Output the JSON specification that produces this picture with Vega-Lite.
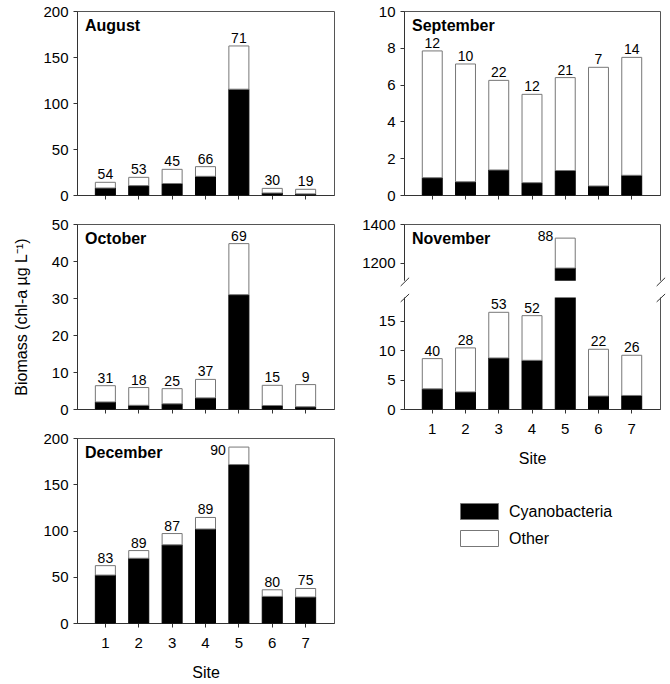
{
  "$schema": "https://vega.github.io/schema/vega-lite/v6.json",
  "padding": {"left": 12, "top": 3, "right": 2, "bottom": 2},
  "background": "white",
  "config": {
    "font": "Liberation Sans",
    "view": {"stroke": "#555", "strokeWidth": 1},
    "axis": {"domainColor": "#333", "tickColor": "#333", "labelColor": "#000", "titleColor": "#000", "labelFontSize": 15, "titleFontSize": 16, "titleFontWeight": "normal", "grid": false, "tickSize": 4, "labelOverlap": false},
    "axisY": {"labelPadding": 5, "tickCount": 20},
    "axisX": {"labelAngle": 0, "labelPadding": 8, "titlePadding": 14},
    "text": {"fontSize": 14, "color": "#000"},
    "title": {"anchor": "start", "frame": "group", "fontSize": 16, "fontWeight": "bold", "offset": -30, "dx": 8, "baseline": "alphabetic", "color": "#000"}
  },
  "data": {"values": [
    {"month": "August", "site": 1, "cyano": 7.6, "total": 13.8, "pct": 54},
    {"month": "August", "site": 2, "cyano": 10.2, "total": 19.2, "pct": 53},
    {"month": "August", "site": 3, "cyano": 12.5, "total": 27.9, "pct": 45},
    {"month": "August", "site": 4, "cyano": 20.3, "total": 30.8, "pct": 66},
    {"month": "August", "site": 5, "cyano": 115, "total": 162, "pct": 71},
    {"month": "August", "site": 6, "cyano": 2.2, "total": 7.2, "pct": 30},
    {"month": "August", "site": 7, "cyano": 1.2, "total": 6.2, "pct": 19},
    {"month": "September", "site": 1, "cyano": 0.94, "total": 7.83, "pct": 12},
    {"month": "September", "site": 2, "cyano": 0.72, "total": 7.12, "pct": 10},
    {"month": "September", "site": 3, "cyano": 1.36, "total": 6.23, "pct": 22},
    {"month": "September", "site": 4, "cyano": 0.67, "total": 5.47, "pct": 12},
    {"month": "September", "site": 5, "cyano": 1.33, "total": 6.38, "pct": 21},
    {"month": "September", "site": 6, "cyano": 0.49, "total": 6.94, "pct": 7},
    {"month": "September", "site": 7, "cyano": 1.07, "total": 7.48, "pct": 14},
    {"month": "October", "site": 1, "cyano": 1.9, "total": 6.3, "pct": 31},
    {"month": "October", "site": 2, "cyano": 1.0, "total": 5.8, "pct": 18},
    {"month": "October", "site": 3, "cyano": 1.4, "total": 5.5, "pct": 25},
    {"month": "October", "site": 4, "cyano": 3.0, "total": 8.0, "pct": 37},
    {"month": "October", "site": 5, "cyano": 30.9, "total": 44.7, "pct": 69},
    {"month": "October", "site": 6, "cyano": 0.95, "total": 6.4, "pct": 15},
    {"month": "October", "site": 7, "cyano": 0.6, "total": 6.6, "pct": 9},
    {"month": "November", "site": 1, "cyano": 3.42, "total": 8.56, "pct": 40},
    {"month": "November", "site": 2, "cyano": 2.9, "total": 10.38, "pct": 28},
    {"month": "November", "site": 3, "cyano": 8.67, "total": 16.43, "pct": 53},
    {"month": "November", "site": 4, "cyano": 8.27, "total": 15.86, "pct": 52},
    {"month": "November", "site": 5, "cyano": 1172, "total": 1327, "pct": 88},
    {"month": "November", "site": 6, "cyano": 2.2, "total": 10.15, "pct": 22},
    {"month": "November", "site": 7, "cyano": 2.3, "total": 9.13, "pct": 26},
    {"month": "December", "site": 1, "cyano": 51.8, "total": 62.0, "pct": 83},
    {"month": "December", "site": 2, "cyano": 70.0, "total": 78.3, "pct": 89},
    {"month": "December", "site": 3, "cyano": 84.5, "total": 96.7, "pct": 87},
    {"month": "December", "site": 4, "cyano": 101.6, "total": 114.1, "pct": 89},
    {"month": "December", "site": 5, "cyano": 171.3, "total": 190.2, "pct": 90},
    {"month": "December", "site": 6, "cyano": 28.8, "total": 35.9, "pct": 80},
    {"month": "December", "site": 7, "cyano": 28.1, "total": 37.3, "pct": 75}
  ]},
  "bounds": "flush",
  "columns": 2,
  "spacing": {"row": 29, "column": 70},
  "concat": [
    {
      "width": 257, "height": 184,
      "title": "August",
      "transform": [{"filter": "datum.month === 'August'"}],
      "encoding": {"x": {"field": "site", "type": "ordinal", "scale": {"paddingInner": 0.4, "paddingOuter": 0.55}, "axis": {"labels": false, "title": null}}},
      "layer": [
        {"mark": {"type": "bar", "stroke": "#000", "strokeWidth": 1}, "encoding": {"y": {"field": "cyano", "type": "quantitative", "scale": {"domain": [0, 200], "nice": false}, "axis": {"values": [0, 50, 100, 150, 200], "tickCount": 20, "format": "d", "title": null, "labelOverlap": false}}, "color": {"datum": "Cyanobacteria", "type": "nominal", "scale": {"domain": ["Cyanobacteria", "Other"], "range": ["#000000", "#ffffff"]}, "legend": {"title": null, "orient": "none", "legendX": 394, "legendY": 492, "symbolType": "M-2.375,-1H2.375V1H-2.375Z", "symbolSize": 256, "symbolStrokeColor": "#777", "symbolStrokeWidth": 1, "labelFontSize": 16, "labelOffset": 21, "rowPadding": 6, "padding": 0}}}},
        {"mark": {"type": "bar", "stroke": "#777", "strokeWidth": 1}, "encoding": {"y": {"field": "cyano", "type": "quantitative"}, "y2": {"field": "total"}, "color": {"datum": "Other", "type": "nominal"}}},
        {"mark": {"type": "text", "baseline": "alphabetic", "dy": -3}, "encoding": {"y": {"field": "total", "type": "quantitative"}, "text": {"field": "pct"}}}
      ]
    },
    {
      "width": 256, "height": 184,
      "title": "September",
      "transform": [{"filter": "datum.month === 'September'"}],
      "encoding": {"x": {"field": "site", "type": "ordinal", "scale": {"paddingInner": 0.4, "paddingOuter": 0.55}, "axis": {"labels": false, "title": null}}},
      "layer": [
        {"mark": {"type": "bar", "stroke": "#000", "strokeWidth": 1}, "encoding": {"y": {"field": "cyano", "type": "quantitative", "scale": {"domain": [0, 10], "nice": false}, "axis": {"values": [0, 2, 4, 6, 8, 10], "tickCount": 20, "format": "d", "title": null, "labelOverlap": false}}, "color": {"datum": "Cyanobacteria", "type": "nominal"}}},
        {"mark": {"type": "bar", "stroke": "#777", "strokeWidth": 1}, "encoding": {"y": {"field": "cyano", "type": "quantitative"}, "y2": {"field": "total"}, "color": {"datum": "Other", "type": "nominal"}}},
        {"mark": {"type": "text", "baseline": "alphabetic", "dy": -3}, "encoding": {"y": {"field": "total", "type": "quantitative"}, "text": {"field": "pct"}}}
      ]
    },
    {
      "width": 257, "height": 185,
      "title": "October",
      "transform": [{"filter": "datum.month === 'October'"}],
      "encoding": {"x": {"field": "site", "type": "ordinal", "scale": {"paddingInner": 0.4, "paddingOuter": 0.55}, "axis": {"labels": false, "title": null}}},
      "layer": [
        {"mark": {"type": "bar", "stroke": "#000", "strokeWidth": 1}, "encoding": {"y": {"field": "cyano", "type": "quantitative", "scale": {"domain": [0, 50], "nice": false}, "axis": {"values": [0, 10, 20, 30, 40, 50], "tickCount": 20, "format": "d", "title": "Biomass (chl-a µg L⁻¹)", "titlePadding": 22, "labelOverlap": false}}, "color": {"datum": "Cyanobacteria", "type": "nominal"}}},
        {"mark": {"type": "bar", "stroke": "#777", "strokeWidth": 1}, "encoding": {"y": {"field": "cyano", "type": "quantitative"}, "y2": {"field": "total"}, "color": {"datum": "Other", "type": "nominal"}}},
        {"mark": {"type": "text", "baseline": "alphabetic", "dy": -3}, "encoding": {"y": {"field": "total", "type": "quantitative"}, "text": {"field": "pct"}}}
      ]
    },
    {
      "width": 256, "height": 185,
      "title": "November",
      "transform": [{"filter": "datum.month === 'November'"}],
      "resolve": {"scale": {"x": "independent"}, "axis": {"x": "independent"}},
      "layer": [
        {"mark": {"type": "bar", "stroke": "#000", "strokeWidth": 1}, "encoding": {"x": {"field": "site", "type": "ordinal", "scale": {"type": "band", "domain": [1, 2, 3, 4, 5, 6, 7], "paddingInner": 0.4, "paddingOuter": 0.55}, "axis": {"title": "Site"}}, "y": {"field": "cyano", "type": "quantitative", "scale": {"domain": [0, 19.2, 1100, 1400], "range": [185, 72, 58, 0], "nice": false, "zero": false}, "axis": {"values": [0, 5, 10, 15, 1200, 1400], "tickCount": 20, "format": "d", "title": null, "labelOverlap": false}}, "color": {"datum": "Cyanobacteria", "type": "nominal"}}},
        {"mark": {"type": "bar", "stroke": "#777", "strokeWidth": 1}, "encoding": {"x": {"field": "site", "type": "ordinal", "scale": {"type": "band", "domain": [1, 2, 3, 4, 5, 6, 7], "paddingInner": 0.4, "paddingOuter": 0.55}, "axis": null}, "y": {"field": "cyano", "type": "quantitative"}, "y2": {"field": "total"}, "color": {"datum": "Other", "type": "nominal"}}},
        {"data": {"values": [{}]}, "mark": {"type": "rect", "fill": "#ffffff", "stroke": "#ffffff", "strokeWidth": 3}, "encoding": {"y": {"datum": 20.5, "type": "quantitative"}, "y2": {"datum": 1080}}},
        {"data": {"values": [{}]}, "mark": {"type": "rule", "color": "#333", "strokeWidth": 1}, "encoding": {"x": {"datum": -0.013, "type": "quantitative", "scale": {"domain": [0, 1], "nice": false, "zero": false}, "axis": null}, "x2": {"datum": 0.02}, "y": {"datum": 18.2, "type": "quantitative"}, "y2": {"datum": 174}}},
        {"data": {"values": [{}]}, "mark": {"type": "rule", "color": "#333", "strokeWidth": 1}, "encoding": {"x": {"datum": -0.013, "type": "quantitative", "scale": {"domain": [0, 1], "nice": false, "zero": false}, "axis": null}, "x2": {"datum": 0.02}, "y": {"datum": 790, "type": "quantitative"}, "y2": {"datum": 1122}}},
        {"data": {"values": [{}]}, "mark": {"type": "rule", "color": "#333", "strokeWidth": 1}, "encoding": {"x": {"datum": 0.987, "type": "quantitative", "scale": {"domain": [0, 1], "nice": false, "zero": false}, "axis": null}, "x2": {"datum": 1.02}, "y": {"datum": 18.2, "type": "quantitative"}, "y2": {"datum": 174}}},
        {"data": {"values": [{}]}, "mark": {"type": "rule", "color": "#333", "strokeWidth": 1}, "encoding": {"x": {"datum": 0.987, "type": "quantitative", "scale": {"domain": [0, 1], "nice": false, "zero": false}, "axis": null}, "x2": {"datum": 1.02}, "y": {"datum": 790, "type": "quantitative"}, "y2": {"datum": 1122}}},
        {"transform": [{"filter": "datum.site !== 5"}], "mark": {"type": "text", "baseline": "alphabetic", "dy": -3}, "encoding": {"x": {"field": "site", "type": "ordinal", "scale": {"type": "band", "domain": [1, 2, 3, 4, 5, 6, 7], "paddingInner": 0.4, "paddingOuter": 0.55}, "axis": null}, "y": {"field": "total", "type": "quantitative"}, "text": {"field": "pct"}}},
        {"transform": [{"filter": "datum.site === 5"}], "mark": {"type": "text", "baseline": "middle", "align": "right", "dx": -12, "dy": -1}, "encoding": {"x": {"field": "site", "type": "ordinal", "scale": {"type": "band", "domain": [1, 2, 3, 4, 5, 6, 7], "paddingInner": 0.4, "paddingOuter": 0.55}, "axis": null}, "y": {"field": "total", "type": "quantitative"}, "text": {"field": "pct"}}}
      ]
    },
    {
      "width": 257, "height": 185,
      "title": "December",
      "transform": [{"filter": "datum.month === 'December'"}],
      "encoding": {"x": {"field": "site", "type": "ordinal", "scale": {"paddingInner": 0.4, "paddingOuter": 0.55}, "axis": {"title": "Site"}}},
      "layer": [
        {"mark": {"type": "bar", "stroke": "#000", "strokeWidth": 1}, "encoding": {"y": {"field": "cyano", "type": "quantitative", "scale": {"domain": [0, 200], "nice": false}, "axis": {"values": [0, 50, 100, 150, 200], "tickCount": 20, "format": "d", "title": null, "labelOverlap": false}}, "color": {"datum": "Cyanobacteria", "type": "nominal"}}},
        {"mark": {"type": "bar", "stroke": "#777", "strokeWidth": 1}, "encoding": {"y": {"field": "cyano", "type": "quantitative"}, "y2": {"field": "total"}, "color": {"datum": "Other", "type": "nominal"}}},
        {"transform": [{"filter": "datum.site !== 5"}], "mark": {"type": "text", "baseline": "alphabetic", "dy": -3}, "encoding": {"y": {"field": "total", "type": "quantitative"}, "text": {"field": "pct"}}},
        {"transform": [{"filter": "datum.site === 5"}], "mark": {"type": "text", "baseline": "middle", "align": "right", "dx": -3, "dy": 4}, "encoding": {"x": {"field": "site", "type": "ordinal", "bandPosition": 0}, "y": {"field": "total", "type": "quantitative"}, "text": {"field": "pct"}}}
      ]
    }
  ]
}
